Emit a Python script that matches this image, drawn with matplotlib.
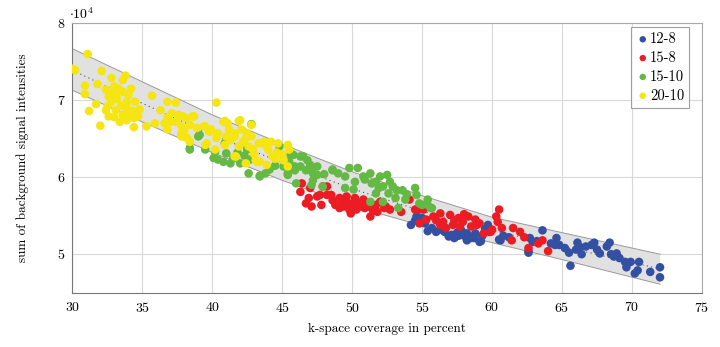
import matplotlib
matplotlib.use("Agg")
import matplotlib.pyplot as plt
import numpy as np
from matplotlib.ticker import FuncFormatter

plt.rcParams['font.family'] = 'serif'
plt.rcParams['font.serif'] = ['cmr10', 'DejaVu Serif']
plt.rcParams['mathtext.fontset'] = 'cm'
plt.rcParams['axes.formatter.use_mathtext'] = True

SCALE = 1e4

# regression band and trend (y in units of 1e4)
band_x = [30, 35, 40, 45, 50, 55, 60, 65, 72]
band_upper = [7.67, 7.24, 6.81, 6.43, 6.07, 5.76, 5.48, 5.28, 5.00]
band_lower = [7.13, 6.72, 6.32, 5.96, 5.63, 5.37, 5.15, 4.93, 4.61]
trend = [7.39, 6.96, 6.55, 6.19, 5.85, 5.56, 5.31, 5.10, 4.81]

# 12-8
blue_x = [54.2, 54.6, 54.5, 55.0, 55.7, 56.0, 56.3, 56.6, 56.9, 57.1, 57.3, 57.8, 58.2,
          58.5, 58.7, 58.8, 59.1, 59.2, 59.5, 59.7, 59.8, 60.5, 60.6, 62.6, 62.7, 62.9,
          62.6, 63.6, 64.5, 64.6, 64.8, 65.2, 65.5, 65.6, 66.0, 66.1, 66.4, 66.7, 67.1,
          67.3, 67.7, 68.2, 68.4, 68.5, 68.9, 69.1, 69.5, 69.6, 70.2, 70.4, 70.5, 71.3,
          72.0, 72.0, 58.2, 57.6, 56.4, 55.2,
          55.4, 57.5, 58.0, 59.3, 60.8, 61.2, 63.2, 64.2, 66.3, 67.5, 68.7, 69.9]
blue_y = [5.38, 5.49, 5.44, 5.47, 5.34, 5.29, 5.32, 5.29, 5.23, 5.25, 5.21, 5.31, 5.27,
          5.21, 5.21, 5.27, 5.16, 5.17, 5.33, 5.38, 5.29, 5.19, 5.18, 5.04, 5.21, 5.16,
          5.02, 5.31, 5.12, 5.21, 5.12, 5.08, 5.02, 4.85, 5.06, 5.15, 5.00, 5.10, 5.12,
          5.15, 5.01, 5.10, 5.15, 5.00, 5.01, 4.95, 4.90, 4.83, 4.75, 4.79, 4.90, 4.77,
          4.83, 4.70, 5.18, 5.24, 5.36, 5.40,
          5.30, 5.28, 5.24, 5.24, 5.24, 5.22, 5.17, 5.14, 5.09, 5.06, 4.97, 4.90]

# 15-8
red_x = [46.3, 46.4, 46.7, 46.9, 47.0, 47.1, 47.5, 47.7, 47.8, 47.9, 48.2, 48.2, 48.5,
         48.8, 49.1, 49.1, 49.4, 49.6, 49.8, 49.8, 50.2, 50.3, 50.4, 50.8, 50.9, 51.3,
         51.4, 51.7, 52.0, 52.7, 54.1, 54.5, 54.6, 54.8, 54.8, 55.1, 55.8, 56.3, 56.3,
         56.5, 56.7, 57.0, 57.2, 57.6, 57.7, 57.9, 58.3, 58.5, 58.8, 59.1, 59.4, 59.9,
         60.0, 60.3, 60.4, 60.5, 60.7, 61.4, 61.5, 62.0, 62.6, 63.3, 63.6, 64.0, 53.5,
         52.4, 50.6, 49.3,
         49.5, 50.0, 50.6, 51.0, 51.5, 49.9, 48.6, 50.3, 51.8, 52.3, 55.3, 56.0, 57.3,
         58.0, 58.9, 62.3]
red_y = [5.81, 5.92, 5.66, 5.73, 5.86, 5.62, 5.75, 5.77, 5.64, 5.88, 5.77, 5.88, 5.77,
         5.64, 5.73, 5.60, 5.62, 5.75, 5.66, 5.58, 5.73, 5.58, 5.64, 5.71, 5.60, 5.49,
         5.60, 5.64, 5.68, 5.58, 5.71, 5.58, 5.58, 5.58, 5.40, 5.58, 5.49, 5.53, 5.38,
         5.42, 5.34, 5.51, 5.38, 5.47, 5.36, 5.42, 5.49, 5.36, 5.45, 5.40, 5.27, 5.29,
         5.32, 5.49, 5.42, 5.58, 5.34, 5.18, 5.34, 5.29, 5.08, 5.14, 5.18, 5.04, 5.55,
         5.62, 5.66, 5.68,
         5.69, 5.62, 5.62, 5.67, 5.56, 5.53, 5.70, 5.68, 5.55, 5.60, 5.45, 5.44, 5.44,
         5.52, 5.38, 5.22]

# 15-10
green_x = [38.4, 38.4, 39.0, 39.1, 39.5, 40.1, 40.2, 40.4, 40.9, 41.0, 41.3, 41.5, 42.0,
           42.5, 42.6, 42.7, 42.8, 43.4, 43.4, 44.1, 44.8, 45.1, 45.4, 45.4, 45.5, 45.6,
           45.8, 45.9, 45.9, 46.0, 46.3, 46.3, 46.5, 46.7, 47.0, 47.0, 47.1, 47.2, 47.2,
           47.5, 47.5, 47.9, 48.6, 48.6, 49.5, 49.5, 49.8, 50.1, 50.2, 50.4, 50.8, 51.3,
           51.3, 51.4, 51.7, 51.7, 52.0, 52.2, 52.2, 52.5, 52.6, 52.7, 53.1, 53.2, 53.3,
           53.6, 53.8, 54.5, 54.6, 54.8, 55.0, 55.4, 55.4, 55.6, 55.7,
           41.8, 43.8, 46.8, 48.0, 49.0, 50.9, 51.9, 52.9, 53.9, 42.3, 44.5, 40.8]
green_y = [6.38, 6.36, 6.53, 6.55, 6.36, 6.25, 6.33, 6.23, 6.44, 6.31, 6.18, 6.25, 6.18,
           6.36, 6.05, 6.23, 6.69, 6.02, 6.01, 6.10, 6.40, 6.14, 6.05, 6.03, 6.20, 6.29,
           6.29, 6.09, 6.14, 5.92, 6.14, 6.27, 6.27, 6.09, 6.16, 6.14, 5.90, 6.05, 5.96,
           6.03, 6.14, 5.88, 6.09, 6.10, 6.01, 5.86, 6.12, 5.84, 5.94, 6.12, 6.01, 6.05,
           5.68, 5.92, 5.94, 5.79, 6.01, 5.88, 5.68, 6.03, 5.79, 5.94, 5.73, 5.83, 5.60,
           5.83, 5.71, 5.86, 5.77, 5.66, 5.64, 5.71, 5.64, 5.60, 5.60,
           6.32, 6.05, 6.22, 6.04, 6.05, 5.97, 5.86, 5.88, 5.78, 6.28, 6.15, 6.20]

# 20-10
yellow_x = [30.0, 30.2, 31.1, 32.1, 30.9, 30.9, 31.8, 31.7, 31.2, 32.0, 32.8, 33.8, 33.6,
            32.4, 33.0, 33.3, 32.6, 33.1, 33.6, 34.0, 34.5, 33.9, 32.8, 32.4, 33.1, 33.6,
            34.0, 32.6, 33.0, 34.4, 34.7, 34.4, 35.3, 35.7, 36.8, 37.4, 36.3, 35.9, 36.8,
            37.1, 37.6, 38.1, 37.4, 36.8, 37.8, 38.4, 38.7, 38.2, 37.8, 38.9, 39.5, 40.3,
            40.9, 39.9, 40.4, 41.2, 41.9, 42.1, 41.6, 42.4, 42.8, 42.8, 43.3, 43.7, 39.5,
            40.2, 40.9, 41.6, 42.4, 43.2, 43.9, 44.3, 37.9, 38.6, 37.8, 38.4, 39.4, 39.8,
            40.8, 41.1, 42.0, 41.6, 41.0, 40.3, 39.6, 42.5, 42.2, 41.9, 42.9, 43.5, 44.0,
            44.2, 44.7, 43.4, 43.9, 43.1, 41.7, 44.5, 45.1, 45.4, 45.5, 45.4,
            33.2, 32.9, 33.5, 33.9, 34.2, 34.8, 32.5, 33.4, 33.9, 34.3, 36.6, 37.0, 38.0,
            41.3, 42.6, 43.0, 44.6, 45.0]
yellow_y = [7.41, 7.39, 7.60, 7.38, 7.19, 7.08, 7.21, 6.95, 6.86, 6.67, 7.29, 7.32, 7.26,
            7.14, 7.18, 7.15, 7.05, 7.07, 7.11, 7.07, 6.98, 6.98, 6.98, 6.87, 6.87, 6.81,
            6.83, 6.79, 6.78, 6.77, 6.79, 6.65, 6.66, 7.06, 6.98, 6.97, 6.87, 6.70, 6.78,
            6.83, 6.81, 6.77, 6.72, 6.62, 6.66, 6.68, 6.79, 6.51, 6.57, 6.64, 6.66, 6.97,
            6.73, 6.62, 6.57, 6.62, 6.73, 6.62, 6.53, 6.51, 6.53, 6.68, 6.44, 6.46, 6.42,
            6.36, 6.42, 6.27, 6.18, 6.20, 6.40, 6.27, 6.79, 6.79, 6.53, 6.46, 6.66, 6.59,
            6.72, 6.70, 6.74, 6.57, 6.53, 6.51, 6.44, 6.57, 6.46, 6.40, 6.36, 6.44, 6.36,
            6.46, 6.44, 6.20, 6.16, 6.22, 6.27, 6.24, 6.22, 6.42, 6.36, 6.14,
            7.02, 7.10, 6.93, 6.90, 7.15, 6.88, 6.92, 6.72, 6.74, 6.86, 6.70, 6.72, 6.60,
            6.48, 6.40, 6.30, 6.32, 6.30]

groups = [
    ("12-8", blue_x, blue_y, "#3450a2"),
    ("15-8", red_x, red_y, "#ec1c24"),
    ("15-10", green_x, green_y, "#63b944"),
    ("20-10", yellow_x, yellow_y, "#f5e512"),
]

fig = plt.figure(figsize=(7.2, 3.47), dpi=100)
ax = fig.add_axes([0.1004, 0.1565, 0.8746, 0.7765])

bx = np.array(band_x)
ax.fill_between(bx, np.array(band_lower) * SCALE, np.array(band_upper) * SCALE,
                facecolor="#e1e1e1", edgecolor="none", zorder=1)
ax.plot(bx, np.array(band_upper) * SCALE, color="#9a9a9a", lw=0.7, zorder=2)
ax.plot(bx, np.array(band_lower) * SCALE, color="#9a9a9a", lw=0.7, zorder=2)
ax.plot(bx, np.array(trend) * SCALE, color="#555555", lw=0.8, ls=(0, (1, 3)), zorder=2)

for name, xs, ys, col in groups:
    ax.scatter(xs, np.array(ys) * SCALE, s=38, color=col, edgecolors="none",
               label=name, zorder=3)

ax.set_xlim(30, 75)
ax.set_ylim(4.5e4, 8e4)
ax.set_xticks(range(30, 76, 5))
ax.set_yticks([5e4, 6e4, 7e4, 8e4])
ax.yaxis.set_major_formatter(FuncFormatter(lambda v, p: f"{v / SCALE:.0f}"))
ax.grid(True, color="#d9d9d9", lw=0.8, zorder=0)
ax.set_axisbelow(True)
ax.tick_params(length=0, labelsize=10, pad=6)
for side in ["left", "bottom"]:
    ax.spines[side].set_color("#777777")
for side in ["top", "right"]:
    ax.spines[side].set_color("#aaaaaa")

ax.set_xlabel("k-space coverage in percent", fontsize=9.5, labelpad=6)
ax.set_ylabel("sum of background signal intensities", fontsize=9.5, labelpad=20)
ax.text(-0.005, 1.005, r"$\cdot 10^4$", transform=ax.transAxes, fontsize=10,
        ha="left", va="bottom")

leg = ax.legend(loc="upper right", bbox_to_anchor=(0.98, 0.985), fontsize=10.5,
                frameon=True, fancybox=False, handletextpad=0.05, handlelength=0.9,
                borderpad=0.35, labelspacing=0.35, markerscale=0.75, borderaxespad=0)
leg.get_frame().set_edgecolor("#888888")
leg.get_frame().set_linewidth(0.8)

fig.savefig("out.png", dpi=100)
